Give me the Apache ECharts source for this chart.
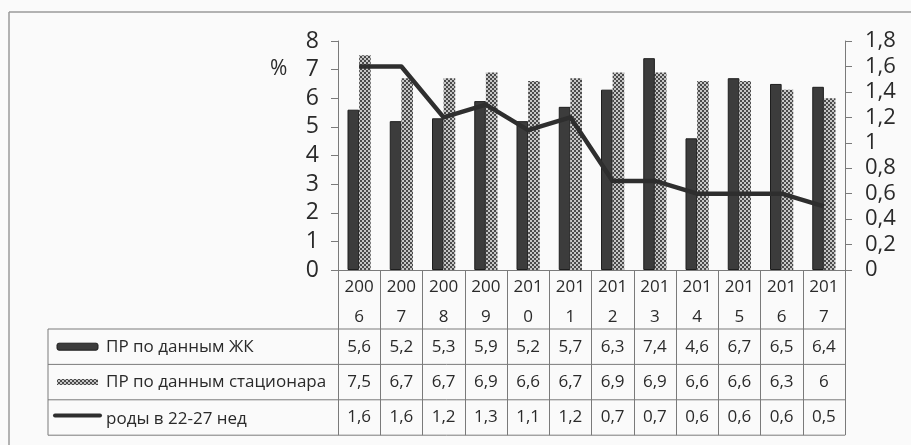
<!DOCTYPE html>
<html>
<head>
<meta charset="utf-8">
<script src="https://cdn.jsdelivr.net/npm/echarts@6/dist/echarts.min.js"></script>
<style>
  html, body { margin: 0; padding: 0; background: #fafafa; }
  #chart { width: 911px; height: 445px; }
</style>
</head>
<body>
<div id="chart"></div>
<script>
// Years and the three indicator rows
const years = ['2006', '2007', '2008', '2009', '2010', '2011', '2012', '2013', '2014', '2015', '2016', '2017'];
const seriesNames = ['ПР по данным ЖК', 'ПР по данным стационара', 'роды в 22-27 нед'];
const prClinic = [5.6, 5.2, 5.3, 5.9, 5.2, 5.7, 6.3, 7.4, 4.6, 6.7, 6.5, 6.4];
const prHospital = [7.5, 6.7, 6.7, 6.9, 6.6, 6.7, 6.9, 6.9, 6.6, 6.6, 6.3, 6.0];
const births2227 = [1.6, 1.6, 1.2, 1.3, 1.1, 1.2, 0.7, 0.7, 0.6, 0.6, 0.6, 0.5];

// Layout
const W = 911, H = 445;
const GRID = { left: 338, right: 66, top: 41, bottom: 175 };
const AXIS_Y = H - GRID.bottom;        // baseline of the plot
const PLOT_R = W - GRID.right;         // right edge of the plot
const HEADER_H = 59;                   // year row of the table
const ROW_H = 35.4;                    // data rows of the table
const TABLE_L = 48;
const FONT = '"Open Sans", "Noto Sans", sans-serif';
const TXT = '#2a2a2a';
const RULE = '#7a7a7a';

const fmt = v => String(+(+v).toFixed(1)).replace('.', ',');

// Checkered fill for the hospital series
function checker() {
  const c = document.createElement('canvas');
  c.width = 4; c.height = 4;
  const g = c.getContext('2d');
  g.fillStyle = '#c6c6c6'; g.fillRect(0, 0, 4, 4);
  g.fillStyle = '#4a4a4a';
  g.fillRect(0, 0, 2, 2); g.fillRect(2, 2, 2, 2);
  return c;
}
const checkerImg = checker();
const patternFill = { image: checkerImg, repeat: 'repeat' };

const rows = [prClinic, prHospital, births2227];

// One extra category axis per table row, carrying that row's values
const tableAxes = rows.map((vals, i) => ({
  type: 'category',
  gridIndex: 0,
  position: 'bottom',
  offset: HEADER_H + i * ROW_H,
  data: vals.map(fmt),
  axisLine: { show: false },
  axisTick: { show: false },
  axisLabel: {
    interval: 0, margin: ROW_H / 2, verticalAlign: 'middle',
    fontFamily: FONT, fontSize: 17, color: TXT
  }
}));

// Table rules, cell dividers and row captions
const graphics = [];
const tableBottom = AXIS_Y + HEADER_H + rows.length * ROW_H;
graphics.push({ type: 'line', shape: { x1: 9, y1: 12, x2: W, y2: 12 }, style: { stroke: '#9a9a9a', lineWidth: 1.5 } });
graphics.push({ type: 'line', shape: { x1: 9, y1: 12, x2: 9, y2: H }, style: { stroke: '#9a9a9a', lineWidth: 1.5 } });
for (let i = 0; i <= rows.length; i++) {
  const y = AXIS_Y + HEADER_H + i * ROW_H;
  graphics.push({ type: 'line', shape: { x1: TABLE_L, y1: y, x2: PLOT_R, y2: y }, style: { stroke: RULE, lineWidth: 1 } });
}
graphics.push({ type: 'line', shape: { x1: TABLE_L, y1: AXIS_Y + HEADER_H, x2: TABLE_L, y2: tableBottom }, style: { stroke: RULE, lineWidth: 1 } });

seriesNames.forEach((name, i) => {
  const cy = AXIS_Y + HEADER_H + (i + 0.5) * ROW_H;
  if (i === 0) {
    graphics.push({ type: 'rect', shape: { x: 57, y: cy - 3.5, width: 41, height: 7, r: 2 }, style: { fill: '#3c3c3c', stroke: '#1e1e1e', lineWidth: 1 } });
  } else if (i === 1) {
    graphics.push({ type: 'rect', shape: { x: 57, y: cy - 3, width: 41, height: 6 }, style: { fill: { image: checkerImg, repeat: 'repeat' } } });
  } else {
    graphics.push({ type: 'line', shape: { x1: 55, y1: cy - 2, x2: 100, y2: cy - 2 }, style: { stroke: '#2e2e2e', lineWidth: 4, lineCap: 'round' } });
  }
  graphics.push({
    type: 'text', x: 106, y: cy + (i === 2 ? 2 : 0),
    style: { text: name, fontFamily: FONT, fontSize: 17, fill: TXT, verticalAlign: 'middle' }
  });
});
graphics.push({ type: 'text', x: 270, y: 69, style: { text: '%', fontFamily: FONT, fontSize: 21, fill: TXT, verticalAlign: 'middle' } });

const chart = echarts.init(document.getElementById('chart'), null, { renderer: 'canvas' });
chart.setOption({
  backgroundColor: '#fafafa',
  animation: false,
  grid: { left: GRID.left, right: GRID.right, top: GRID.top, bottom: GRID.bottom },
  xAxis: [{
    type: 'category',
    data: years,
    boundaryGap: true,
    axisLine: { show: true, lineStyle: { color: RULE } },
    axisTick: { show: true, interval: 0, alignWithLabel: false, length: HEADER_H + rows.length * ROW_H, lineStyle: { color: RULE } },
    axisLabel: {
      interval: 0, margin: 2,
      formatter: v => v.slice(0, 3) + '\n' + v.slice(3),
      fontFamily: FONT, fontSize: 17, lineHeight: 30, color: TXT
    }
  }].concat(tableAxes),
  yAxis: [{
    type: 'value', min: 0, max: 8, interval: 1,
    axisLine: { show: true, lineStyle: { color: RULE } },
    axisTick: { show: true, length: 7, lineStyle: { color: RULE } },
    splitLine: { show: false },
    axisLabel: { margin: 19, fontFamily: FONT, fontSize: 23, color: TXT }
  }, {
    type: 'value', min: 0, max: 1.8, interval: 0.2, position: 'right',
    axisLine: { show: true, lineStyle: { color: RULE } },
    axisTick: { show: true, length: 7, lineStyle: { color: RULE } },
    splitLine: { show: false },
    axisLabel: { margin: 20, fontFamily: FONT, fontSize: 22, color: TXT, formatter: fmt }
  }],
  series: [{
    name: seriesNames[0], type: 'bar', data: prClinic,
    barGap: '0%', barCategoryGap: '45%',
    itemStyle: { color: '#3c3c3c', borderColor: '#1e1e1e', borderWidth: 1 }
  }, {
    name: seriesNames[1], type: 'bar', data: prHospital,
    itemStyle: { color: patternFill }
  }, {
    name: seriesNames[2], type: 'line', yAxisIndex: 1, data: births2227,
    symbol: 'none', z: 5,
    lineStyle: { color: '#2e2e2e', width: 4.5, join: 'round' }
  }],
  graphic: graphics
});
</script>
</body>
</html>
